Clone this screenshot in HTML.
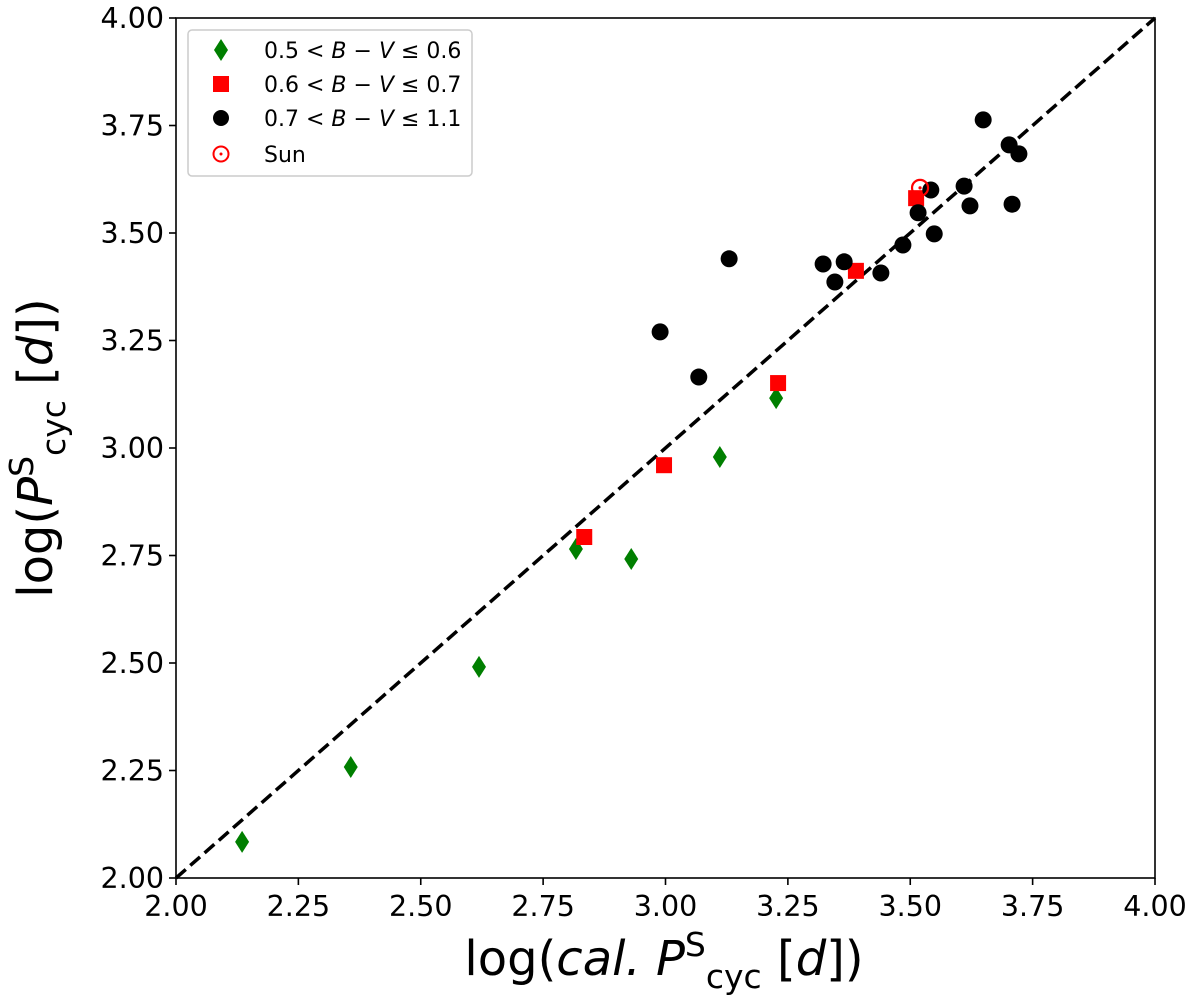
<!DOCTYPE html>
<html><head><meta charset="utf-8"><style>
body{margin:0;background:#fff}
svg{display:block;font-family:"DejaVu Sans","Liberation Sans",sans-serif}
</style></head><body>
<svg id="chart" width="1200" height="997" viewBox="0 0 1200 997">
<g id="marks"></g>
<g id="axes"></g>
</svg>
<script>
const greenX=[2.135,2.357,2.619,2.817,2.930,3.111,3.226];
const greenY=[2.084,2.258,2.491,2.765,2.742,2.979,3.116];
const redX=[2.834,2.997,3.230,3.389,3.512];
const redY=[2.793,2.960,3.151,3.412,3.581];
const blackX=[2.989,3.068,3.130,3.322,3.365,3.346,3.440,3.485,3.516,3.542,3.549,3.610,3.622,3.649,3.702,3.722,3.708];
const blackY=[3.270,3.165,3.440,3.428,3.433,3.386,3.407,3.472,3.547,3.600,3.498,3.609,3.563,3.763,3.705,3.684,3.567];
const sunX=[3.520];
const sunY=[3.605];
const ticks=[2.00,2.25,2.50,2.75,3.00,3.25,3.50,3.75,4.00];
const tickLabels=["2.00","2.25","2.50","2.75","3.00","3.25","3.50","3.75","4.00"];

const L=176,R=1155,T=18,B=878;
function sx(v){return L+(v-2)/2*(R-L);}
function sy(v){return B-(v-2)/2*(B-T);}
const NS="http://www.w3.org/2000/svg";
function mk(tag,attrs,parent){const e=document.createElementNS(NS,tag);for(const k in attrs)e.setAttribute(k,attrs[k]);parent.appendChild(e);return e;}
const marks=document.getElementById('marks'),axes=document.getElementById('axes');

let d=mk('line',{x1:sx(2),y1:sy(2),x2:sx(4),y2:sy(4),stroke:'#000','stroke-width':3.5,'stroke-dasharray':'13,6'},marks);



greenX.forEach((x,i)=>{const cx=sx(x),cy=sy(greenY[i]);
 const p=mk('polygon',{points:`${cx},${cy-11} ${cx+7},${cy} ${cx},${cy+11} ${cx-7},${cy}`,fill:'#007f00'},marks);
 
 });
redX.forEach((x,i)=>{const cx=sx(x),cy=sy(redY[i]);
 const p=mk('rect',{x:cx-8,y:cy-8,width:16,height:16,fill:'#ff0000'},marks);
 
 });
blackX.forEach((x,i)=>{
 const p=mk('circle',{cx:sx(x),cy:sy(blackY[i]),r:8.5,fill:'#000'},marks);
 
 });
sunX.forEach((x,i)=>{const g=mk('g',{},marks);
 
 
 mk('circle',{cx:sx(x),cy:sy(sunY[i]),r:8,fill:'none',stroke:'#ff0000','stroke-width':2.2},g);
 mk('circle',{cx:sx(x),cy:sy(sunY[i]),r:1.6,fill:'#ff0000'},g);});

let fr=mk('rect',{x:L,y:T,width:R-L,height:B-T,fill:'none',stroke:'#000','stroke-width':1.6},axes);


ticks.forEach((t,i)=>{
 mk('line',{x1:sx(t),y1:B,x2:sx(t),y2:B+7,stroke:'#000','stroke-width':1.6},axes);
 const xl=mk('text',{x:sx(t),y:B+38,'font-size':28.5,'text-anchor':'middle'},axes);xl.textContent=tickLabels[i];
 
 
 mk('line',{x1:L-7,y1:sy(t),x2:L,y2:sy(t),stroke:'#000','stroke-width':1.6},axes);
 const yl=mk('text',{x:L-12,y:sy(t)+10,'font-size':28.5,'text-anchor':'end'},axes);yl.textContent=tickLabels[i];
 
 
});
</script>
<svg width="1200" height="997" style="position:absolute;left:0;top:0">
<text x="664" y="975" font-size="48" text-anchor="middle">log(<tspan font-style="italic">cal.</tspan> <tspan font-style="italic">P</tspan><tspan font-size="33" dy="-19">S</tspan><tspan font-size="33" dy="32">cyc</tspan><tspan dy="-13"> [</tspan><tspan font-style="italic">d</tspan>])</text>
<text transform="translate(52,448) rotate(-90)" font-size="48" text-anchor="middle">log(<tspan font-style="italic">P</tspan><tspan font-size="33" dy="-19">S</tspan><tspan font-size="33" dy="32">cyc</tspan><tspan dy="-13"> [</tspan><tspan font-style="italic">d</tspan>])</text>
<g>
<rect x="188" y="30" width="284" height="146" rx="4" fill="#fff" stroke="#ccc" stroke-width="1.5"/>
<polygon points="221,39 228,50 221,61 214,50" fill="#007f00"/>
<rect x="213" y="76" width="16" height="16" fill="#ff0000"/>
<circle cx="221" cy="118" r="8" fill="#000"/>
<circle cx="221" cy="154" r="7.5" fill="none" stroke="#ff0000" stroke-width="2"/><circle cx="221" cy="154" r="1.5" fill="#ff0000"/>
<text x="264" y="58" font-size="22">0.5 &lt; <tspan font-style="italic">B</tspan> − <tspan font-style="italic">V</tspan> ≤ 0.6</text>
<text x="264" y="92" font-size="22">0.6 &lt; <tspan font-style="italic">B</tspan> − <tspan font-style="italic">V</tspan> ≤ 0.7</text>
<text x="264" y="126" font-size="22">0.7 &lt; <tspan font-style="italic">B</tspan> − <tspan font-style="italic">V</tspan> ≤ 1.1</text>
<text x="264" y="162" font-size="22">Sun</text>
</g>
</svg>
</body></html>
